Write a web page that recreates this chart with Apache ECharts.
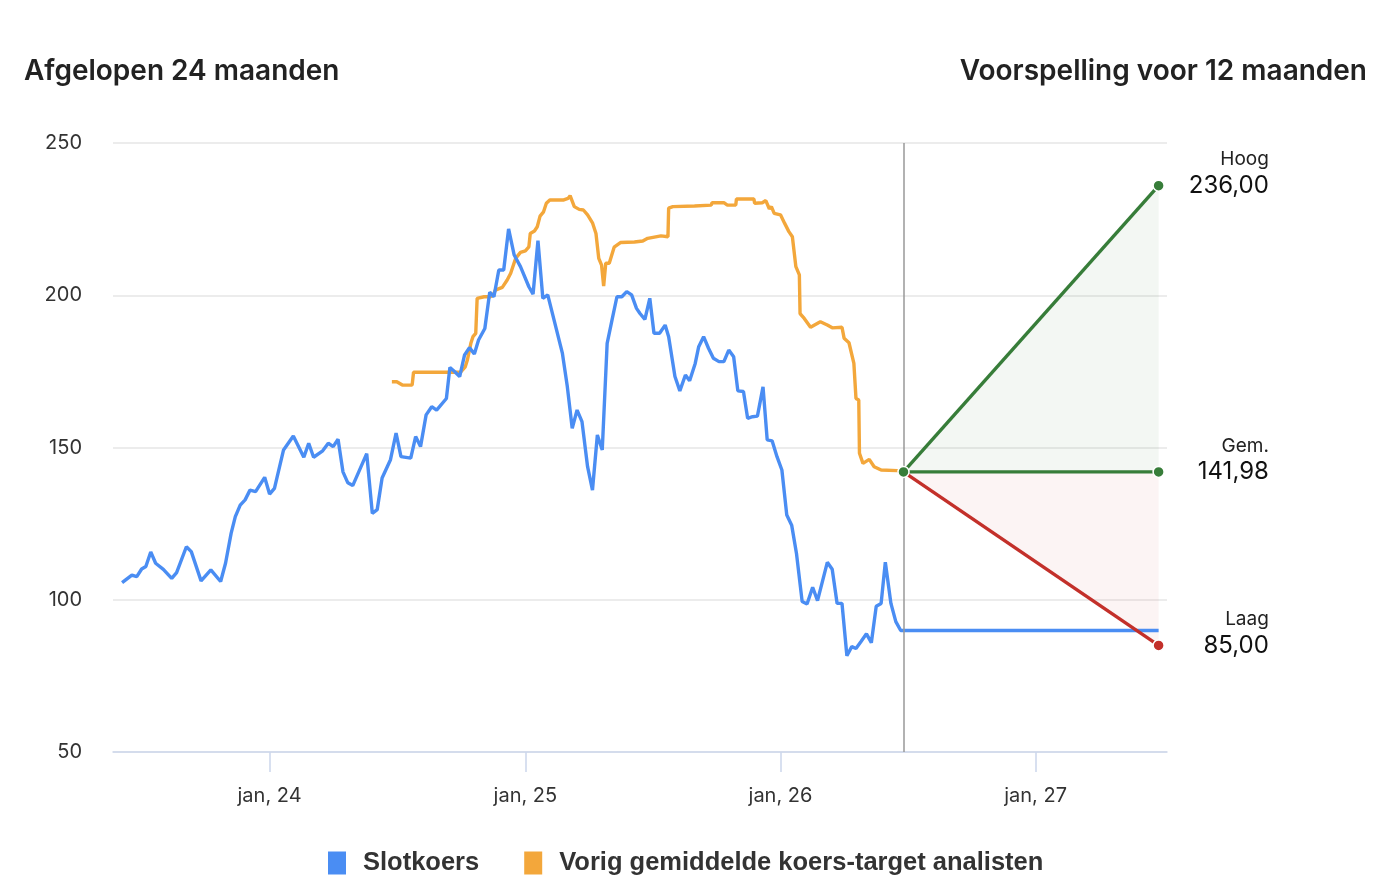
<!DOCTYPE html>
<html>

<head>
	<meta charset="UTF-8" />
	<title>Koers en koersdoel</title>
	<style>
		html, body {
			margin: 0;
			padding: 0;
			background: #fff;
		}
		#chart {
			width: 1398px;
			height: 890px;
		}
	</style>
	<script type="text/javascript" src="https://cdn.jsdelivr.net/npm/echarts@6/dist/echarts.min.js"></script>
</head>

<body>
	<div id="chart"></div>

	<script>
		// Slotkoers
		var closeDates = [
			"2023-06-04", "2023-06-18", "2023-06-25", "2023-07-02", "2023-07-08", "2023-07-15", "2023-07-22",
			"2023-08-02", "2023-08-14", "2023-08-21", "2023-09-04", "2023-09-11", "2023-09-25", "2023-10-09",
			"2023-10-23", "2023-10-30", "2023-11-07", "2023-11-13", "2023-11-20", "2023-11-27", "2023-12-04",
			"2023-12-12", "2023-12-25", "2024-01-01", "2024-01-08", "2024-01-21", "2024-02-04", "2024-02-19",
			"2024-02-26", "2024-03-04", "2024-03-17", "2024-03-25", "2024-04-01", "2024-04-08", "2024-04-15",
			"2024-04-22", "2024-04-29", "2024-05-19", "2024-05-27", "2024-06-03", "2024-06-10", "2024-06-22",
			"2024-06-30", "2024-07-07", "2024-07-21", "2024-07-28", "2024-08-04", "2024-08-12", "2024-08-20",
			"2024-08-27", "2024-09-10", "2024-09-15", "2024-09-22", "2024-09-29", "2024-10-06", "2024-10-13",
			"2024-10-20", "2024-10-26", "2024-11-04", "2024-11-11", "2024-11-17", "2024-11-24", "2024-12-01",
			"2024-12-08", "2024-12-16", "2024-12-25", "2025-01-06", "2025-01-12", "2025-01-19", "2025-01-26",
			"2025-02-02", "2025-02-11", "2025-02-23", "2025-03-02", "2025-03-09", "2025-03-16", "2025-03-23",
			"2025-03-31", "2025-04-07", "2025-04-14", "2025-04-21", "2025-04-28", "2025-05-05", "2025-05-12",
			"2025-05-19", "2025-05-26", "2025-06-02", "2025-06-09", "2025-06-14", "2025-06-21", "2025-06-28",
			"2025-07-04", "2025-07-12", "2025-07-20", "2025-07-25", "2025-08-03", "2025-08-10", "2025-08-18",
			"2025-08-24", "2025-09-01", "2025-09-06", "2025-09-13", "2025-09-20", "2025-09-27", "2025-10-05",
			"2025-10-12", "2025-10-19", "2025-10-26", "2025-11-01", "2025-11-09", "2025-11-15", "2025-11-22",
			"2025-11-29", "2025-12-07", "2025-12-13", "2025-12-20", "2025-12-27", "2026-01-03", "2026-01-10",
			"2026-01-17", "2026-01-24", "2026-02-01", "2026-02-08", "2026-02-16", "2026-02-23", "2026-03-09",
			"2026-03-16", "2026-03-23", "2026-03-30", "2026-04-06", "2026-04-13", "2026-04-19", "2026-04-26",
			"2026-05-04", "2026-05-11", "2026-05-18", "2026-05-25", "2026-05-31", "2026-06-08", "2026-06-15",
			"2026-06-22", "2026-06-26", "2027-06-26"
		];
		var closeValues = [
			105.6, 108.1, 107.6, 110.1, 110.9, 115.7, 112,
			110, 107, 108.9, 117.4, 115.8, 106.2, 109.8,
			106, 112, 121.8, 127.3, 131.1, 132.8, 136,
			135.5, 140.2, 134.7, 136.6, 149.2, 153.8, 146.8,
			151.4, 146.8, 148.9, 151.4, 150.3, 152.7, 142,
			138.4, 137.5, 148, 128.4, 129.6, 140, 146,
			154.7, 147, 146.5, 153.6, 150.3, 160.7, 163.4,
			162.3, 166.1, 176.3, 174.9, 173.3, 180.4, 182.8,
			180.7, 185.3, 189.1, 201, 199.5, 208.3, 208.3,
			221.8, 213.2, 209.4, 202.8, 200.4, 217.9, 199,
			200.1, 191.9, 180.9, 170, 156.3, 162.3, 158.5,
			143.7, 136, 154.1, 149.2, 184.2, 191.9, 199.5,
			199.5, 201.2, 200.1, 195.7, 194, 192.1, 199,
			187.5, 187.5, 190.2, 186.4, 173.3, 168.6, 173.8,
			171.9, 177.6, 183.1, 186.4, 182.6, 179.3, 178.2,
			178.2, 182, 179.8, 168.6, 168.4, 159.6, 160.1,
			160.3, 169.9, 152.5, 152.2, 147, 142.6, 127.8,
			124.5, 115, 99.4, 98.6, 104.1, 99.7, 112.3,
			110, 98.8, 98.8, 81.6, 84.6, 84, 86.2,
			88.8, 85.9, 97.9, 98.8, 112.3, 98.8, 92.8,
			89.9, 89.9, 89.9
		];

		// Vorig gemiddelde koers-target analisten
		var targetDates = [
			"2024-06-24", "2024-07-01", "2024-07-09", "2024-07-23", "2024-07-25", "2024-09-30", "2024-10-07",
			"2024-10-10", "2024-10-15", "2024-10-18", "2024-10-22", "2024-10-24", "2024-11-03", "2024-11-12",
			"2024-11-17", "2024-11-19", "2024-11-29", "2024-12-06", "2024-12-11", "2024-12-18", "2024-12-25",
			"2025-01-01", "2025-01-06", "2025-01-08", "2025-01-14", "2025-01-18", "2025-01-22", "2025-01-27",
			"2025-01-31", "2025-02-05", "2025-02-25", "2025-03-03", "2025-03-06", "2025-03-12", "2025-03-19",
			"2025-03-25", "2025-03-31", "2025-04-07", "2025-04-12", "2025-04-16", "2025-04-20", "2025-04-23",
			"2025-04-26", "2025-05-01", "2025-05-08", "2025-05-17", "2025-06-06", "2025-06-18", "2025-06-25",
			"2025-07-14", "2025-07-24", "2025-07-25", "2025-07-31", "2025-08-31", "2025-09-24", "2025-09-25",
			"2025-10-12", "2025-10-17", "2025-10-29", "2025-10-30", "2025-11-24", "2025-11-25", "2025-12-06",
			"2025-12-11", "2025-12-16", "2025-12-19", "2025-12-23", "2026-01-01", "2026-01-07", "2026-01-13",
			"2026-01-18", "2026-01-23", "2026-01-28", "2026-01-29", "2026-02-04", "2026-02-13", "2026-02-27",
			"2026-03-09", "2026-03-16", "2026-03-30", "2026-04-02", "2026-04-09", "2026-04-16", "2026-04-19",
			"2026-04-23", "2026-04-24", "2026-04-29", "2026-05-08", "2026-05-15", "2026-05-25", "2026-06-17",
			"2026-06-26"
		];
		var targetValues = [
			171.6, 171.6, 170.5, 170.5, 174.7, 174.7, 176.5,
			178.7, 184.2, 186.4, 187.5, 199, 199.5, 199.5,
			200.6, 201.7, 202.6, 205, 207.2, 212.1, 214.1,
			214.6, 215.9, 220.3, 221.1, 222.5, 226, 227.4,
			230.2, 231.3, 231.3, 231.8, 232.7, 229.1, 228.2,
			228, 226.4, 223.8, 220.3, 212.1, 209.9, 203,
			210.5, 210.5, 215.8, 217.3, 217.5, 217.8, 218.7,
			219.5, 219.2, 228.6, 229.1, 229.3, 229.6, 230.4,
			230.4, 229.6, 229.6, 231.6, 231.6, 230.2, 230.4,
			231.1, 228.4, 229.1, 226.9, 226.4, 223.6, 220.9,
			219.2, 209.4, 206.7, 194, 192.4, 189.5, 191.3,
			190.2, 189.3, 189.5, 185.9, 184.4, 177.6, 166.1,
			165.6, 148.1, 144.8, 146.1, 143.7, 142.6, 142.4,
			142
		];

		// Voorspelling voor 12 maanden
		var forecastDates = ["2026-06-26", "2027-06-26"];
		var forecastHigh = [141.98, 236.00];
		var forecastAvg = [141.98, 141.98];
		var forecastLow = [141.98, 85.00];

		var yTicks = [50, 100, 150, 200, 250];
		var maanden = ["jan", "feb", "mrt", "apr", "mei", "jun", "jul", "aug", "sep", "okt", "nov", "dec"];

		function pairs(dates, values) {
			return dates.map(function (d, i) {
				return [d, values[i]];
			});
		}

		function fmt(v) {
			return v.toFixed(2).replace(".", ",");
		}

		// forecast line with a labelled end point
		function forecastSeries(name, values, color, label, startSymbol) {
			return {
				name: name,
				type: "line",
				z: 5,
				silent: true,
				symbol: "circle",
				symbolSize: 11,
				showAllSymbol: true,
				lineStyle: { color: color, width: 3.4 },
				itemStyle: { color: color, borderColor: "#fff", borderWidth: 1.5 },
				data: [
					{ value: [forecastDates[0], values[0]], symbol: startSymbol ? "circle" : "none" },
					{
						value: [forecastDates[1], values[1]],
						label: {
							show: true,
							position: "right",
							distance: 5,
							offset: [0, -12],
							formatter: "{a|" + label + "}\n{b|" + fmt(values[1]) + "}",
							rich: {
								a: { fontFamily: "Inter", fontSize: 19, color: "#222", width: 99, align: "right", lineHeight: 24 },
								b: { fontFamily: "Inter", fontSize: 24, color: "#111", width: 99, align: "right", lineHeight: 28 }
							}
						}
					}
				]
			};
		}

		var myChart = echarts.init(document.getElementById("chart"));

		var option = {
			animation: false,
			title: [{
				text: "Afgelopen 24 maanden",
				left: 19,
				top: 53,
				textStyle: { fontFamily: "Inter", fontSize: 28, fontWeight: 600, color: "#222" }
			}, {
				text: "Voorspelling voor 12 maanden",
				right: 26,
				top: 53,
				textStyle: { fontFamily: "Inter", fontSize: 28, fontWeight: 600, color: "#222" }
			}],
			legend: {
				data: ["Slotkoers", "Vorig gemiddelde koers-target analisten"],
				bottom: 9,
				left: 323,
				icon: "rect",
				itemWidth: 18,
				itemHeight: 23,
				itemGap: 45,
				selectedMode: false,
				textStyle: { fontFamily: "Liberation Sans", fontSize: 25.5, fontWeight: "bold", color: "#333", padding: [0, 0, 0, 12] }
			},
			grid: {
				left: 113,
				right: 231,
				top: 143,
				bottom: 138
			},
			xAxis: {
				type: "time",
				min: "2023-05-22",
				max: "2027-07-08",
				minInterval: 365 * 24 * 3600 * 1000,
				splitNumber: 4,
				axisLine: { lineStyle: { color: "#ccd6eb", width: 1.5 } },
				axisTick: { show: true, length: 20, lineStyle: { color: "#ccd6eb", width: 1.5 } },
				splitLine: { show: false },
				axisLabel: {
					margin: 34,
					fontFamily: "Inter",
					fontSize: 20,
					color: "#333",
					formatter: function (value) {
						var d = new Date(value);
						return maanden[d.getMonth()] + ", " + String(d.getFullYear()).slice(2);
					}
				}
			},
			yAxis: {
				type: "value",
				min: yTicks[0],
				max: yTicks[yTicks.length - 1],
				interval: 50,
				axisLine: { show: false },
				axisTick: { show: false },
				splitLine: { lineStyle: { color: "#e6e6e6", width: 1.5 } },
				axisLabel: { margin: 31, fontFamily: "Inter", fontSize: 20, color: "#333" }
			},
			series: [{
				name: "forecastFill",
				type: "custom",
				silent: true,
				z: 1,
				data: [[forecastDates[0], forecastAvg[0]]],
				renderItem: function (params, api) {
					var s = api.coord([forecastDates[0], forecastAvg[0]]);
					var h = api.coord([forecastDates[1], forecastHigh[1]]);
					var a = api.coord([forecastDates[1], forecastAvg[1]]);
					var l = api.coord([forecastDates[1], forecastLow[1]]);
					return {
						type: "group",
						children: [{
							type: "polygon",
							shape: { points: [s, h, a] },
							style: { fill: "rgba(46,125,50,0.06)" }
						}, {
							type: "polygon",
							shape: { points: [s, a, l] },
							style: { fill: "rgba(198,40,40,0.05)" }
						}]
					};
				}
			}, {
				name: "Slotkoers",
				type: "line",
				z: 3,
				showSymbol: false,
				color: "#4a8df3",
				lineStyle: { width: 3.4, color: "#4a8df3" },
				data: pairs(closeDates, closeValues),
				markLine: {
					silent: true,
					symbol: "none",
					label: { show: false },
					lineStyle: { color: "#999", width: 1.5, type: "solid" },
					data: [{ xAxis: forecastDates[0] }]
				}
			}, {
				name: "Vorig gemiddelde koers-target analisten",
				type: "line",
				z: 2,
				showSymbol: false,
				color: "#f3a73b",
				lineStyle: { width: 3.4, color: "#f3a73b" },
				data: pairs(targetDates, targetValues)
			},
			forecastSeries("Laag", forecastLow, "#c3302a", "Laag", false),
			forecastSeries("Gem.", forecastAvg, "#377d39", "Gem.", false),
			forecastSeries("Hoog", forecastHigh, "#377d39", "Hoog", true)
			]
		};

		myChart.setOption(option);
	</script>
</body>

</html>
